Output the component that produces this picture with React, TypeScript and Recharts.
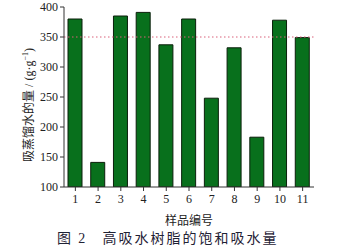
import React from 'react';
import { BarChart, Bar, XAxis, YAxis, ReferenceLine } from 'recharts';

const samples = ['1', '2', '3', '4', '5', '6', '7', '8', '9', '10', '11'];
const absorption = [380, 141, 385, 391, 337, 380, 248, 332, 183, 378, 349];
const yTicks = [100, 150, 200, 250, 300, 350, 400];
const yMinorTicks = [125, 175, 225, 275, 325, 375];
const xTicks = [1, 2, 3, 4, 5, 6, 7, 8, 9, 10, 11];
const xMinorTicks = [1.5, 2.5, 3.5, 4.5, 5.5, 6.5, 7.5, 8.5, 9.5, 10.5];
const referenceValue = 350;

const data = samples.map((s, i) => ({ sample: Number(s), value: absorption[i] }));

const serif = '"Liberation Serif", "Times New Roman", serif';
const cjk = '"Noto Sans CJK SC", sans-serif';

const YLabel = ({ viewBox }: any) => {
  const cx = 33;
  const cy = viewBox.y + viewBox.height / 2 + 8;
  return (
    <text
      x={cx}
      y={cy}
      transform={`rotate(-90, ${cx}, ${cy})`}
      textAnchor="middle"
      fontSize={12}
      fill="#222"
      fontFamily={serif}
    >
      <tspan fontFamily={cjk}>吸蒸馏水的量</tspan>
      <tspan> / (g·g</tspan>
      <tspan fontSize={8} dy={-5}>−1</tspan>
      <tspan dy={5}>)</tspan>
    </text>
  );
};

const App: React.FC = () => {
  return (
    <div style={{ position: 'absolute', left: 0, top: 0, width: 351, height: 251, background: '#fff' }}>
      <BarChart
        width={351}
        height={251}
        data={data}
        margin={{ top: 7, right: 37, left: 0, bottom: 34 }}
      >
        {/* minor tick axes first, zero size so they sit on the plot edge */}
        <XAxis
          xAxisId="minor"
          dataKey="sample"
          type="number"
          domain={[0.5, 11.5]}
          ticks={xMinorTicks}
          interval={0}
          height={0}
          axisLine={false}
          tickSize={2.5}
          stroke="#333"
          tick={false}
        />
        <XAxis
          dataKey="sample"
          type="number"
          domain={[0.5, 11.5]}
          ticks={xTicks}
          interval={0}
          height={30}
          stroke="#333"
          tickSize={4}
          tick={{ fontSize: 12, fill: '#222', fontFamily: serif }}
          tickMargin={3}
          label={{ value: '样品编号', position: 'insideBottom', offset: -8, fontSize: 12, fill: '#222', fontFamily: cjk }}
        />
        <XAxis
          xAxisId="top"
          orientation="top"
          dataKey="sample"
          type="number"
          domain={[0.5, 11.5]}
          height={0}
          tick={false}
          tickLine={false}
          stroke="#888"
        />
        <YAxis
          yAxisId="minor"
          domain={[100, 400]}
          ticks={yMinorTicks}
          interval={0}
          width={0}
          axisLine={false}
          tickSize={2.5}
          stroke="#333"
          tick={false}
        />
        <YAxis
          domain={[100, 400]}
          ticks={yTicks}
          interval={0}
          allowDataOverflow
          width={64}
          stroke="#333"
          tickSize={4}
          tickMargin={2}
          tick={{ fontSize: 12, fill: '#222', fontFamily: serif }}
          label={<YLabel />}
        />
        <YAxis
          yAxisId="right"
          orientation="right"
          domain={[100, 400]}
          width={0}
          tick={false}
          tickLine={false}
          stroke="#888"
        />
        <ReferenceLine y={referenceValue} stroke="#d9607a" strokeDasharray="1.5 2.5" strokeWidth={1} />
        <Bar
          dataKey="value"
          fill="#08701c"
          stroke="#0b1f0b"
          strokeWidth={1}
          barSize={14}
          isAnimationActive={false}
        />
      </BarChart>
      <div
        style={{
          position: 'absolute',
          left: 57,
          top: 229,
          fontSize: 14,
          color: '#1f2235',
          fontFamily: cjk,
          whiteSpace: 'pre',
          letterSpacing: 2,
          lineHeight: '16px',
        }}
      >
        <span>图 </span>
        <span style={{ fontFamily: serif }}>2</span>
        <span>   高吸水树脂的饱和吸水量</span>
      </div>
    </div>
  );
};

export default App;
